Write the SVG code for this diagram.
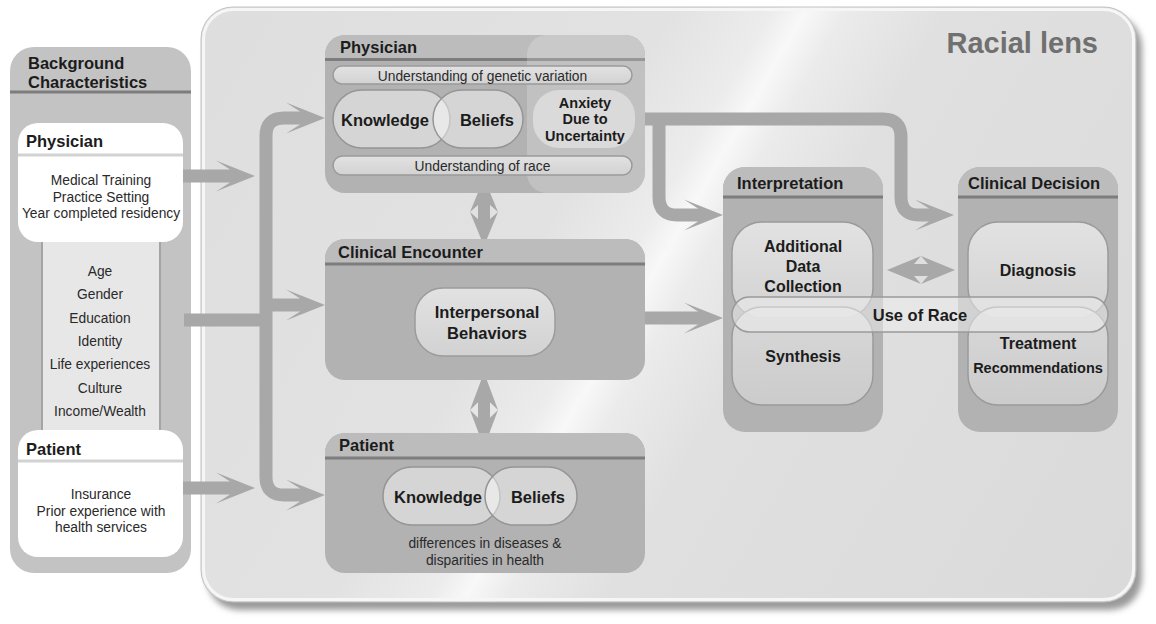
<svg xmlns="http://www.w3.org/2000/svg" width="1156" height="624" viewBox="0 0 1156 624">
  <defs>
    <linearGradient id="lensFill" gradientUnits="userSpaceOnUse" x1="200" y1="0" x2="1140" y2="545">
      <stop offset="0" stop-color="#dedede"/>
      <stop offset="0.38" stop-color="#e2e2e2"/>
      <stop offset="0.46" stop-color="#ececec"/>
      <stop offset="0.487" stop-color="#f8f8f8"/>
      <stop offset="0.52" stop-color="#ebebeb"/>
      <stop offset="0.6" stop-color="#e0e0e0"/>
      <stop offset="1" stop-color="#dadada"/>
    </linearGradient>
    <linearGradient id="pillFill" x1="0" y1="0" x2="0" y2="1">
      <stop offset="0" stop-color="#e2e2e2"/>
      <stop offset="1" stop-color="#d2d2d2"/>
    </linearGradient>
    <filter id="soft" x="-5%" y="-5%" width="110%" height="115%">
      <feGaussianBlur stdDeviation="3"/>
    </filter>
    <!-- swept arrowhead, tip at the origin, pointing right -->
    <path id="head" d="M -25 -6.5 L -39 -15.5 L 0 0 L -39 15.5 L -25 6.5 Z"/>
    <!-- two-way link, vertical, centred on the origin -->
    <g id="twoway">
      <path d="M 0 -34 L 14 0 L 6 -7 L -6 -7 L -14 0 Z"/>
      <rect x="-6" y="-8" width="12" height="16"/>
      <path d="M 0 34 L -14 0 L -6 7 L 6 7 L 14 0 Z"/>
    </g>
  </defs>
  <style>
    .t { font-family: "Liberation Sans", Arial, Helvetica, sans-serif; fill: #1c1c1c; }
    .b { font-weight: bold; font-size: 16.5px; }
    .r { font-size: 13.8px; fill: #2a2a2a; }
    .c { text-anchor: middle; }
    .box { fill: #b2b2b2; }
    .hdr { fill: #bcbcbc; }
    .sep { stroke: #7d7d7d; stroke-width: 3; }
    .pill { fill: url(#pillFill); stroke: #9a9a9a; stroke-width: 1.5; }
    .lens { fill: #ffffff; fill-opacity: 0.45; stroke: #959595; stroke-width: 1.5; }
    .flow { fill: none; stroke: #a8a8a8; stroke-width: 13; }
    .head { fill: #a8a8a8; }
  </style>

  <rect width="1156" height="624" fill="#ffffff"/>

  <!-- racial lens panel -->
  <g id="racial-lens">
    <rect x="207" y="15" width="935" height="595" rx="32" fill="#9a9a9a" filter="url(#soft)"/>
    <rect x="201" y="7" width="935" height="595" rx="32" fill="url(#lensFill)" stroke="#c2c2c2" stroke-width="1"/>
    <rect x="203.5" y="9.5" width="930" height="590" rx="30" fill="none" stroke="#f6f6f6" stroke-width="3"/>
    <text class="t b" x="1098" y="53" text-anchor="end" style="font-size:29px;fill:#707070">Racial lens</text>
  </g>

  <!-- background characteristics column -->
  <g id="background">
    <rect x="10" y="47" width="181" height="526" rx="24" fill="#c3c3c3"/>
    <line class="sep" x1="10" y1="92" x2="191" y2="92"/>
    <text class="t b" x="28" y="69">Background</text>
    <text class="t b" x="28" y="88">Characteristics</text>
    <rect x="41" y="236" width="120" height="200" fill="#e7e7e7"/>
    <line x1="42" y1="236" x2="42" y2="436" stroke="#a4a4a4" stroke-width="2"/>
    <line x1="160" y1="236" x2="160" y2="436" stroke="#a4a4a4" stroke-width="2"/>
    <g class="t r c">
      <text x="100" y="276">Age</text>
      <text x="100" y="299.3">Gender</text>
      <text x="100" y="322.6">Education</text>
      <text x="100" y="346">Identity</text>
      <text x="100" y="369.3">Life experiences</text>
      <text x="100" y="392.6">Culture</text>
      <text x="100" y="416">Income/Wealth</text>
    </g>
  </g>

  <g id="bg-physician">
    <rect x="18" y="123" width="165" height="119" rx="20" fill="#ffffff"/>
    <line x1="18" y1="155" x2="183" y2="155" stroke="#d2d2d2" stroke-width="3"/>
    <text class="t b" x="26" y="147">Physician</text>
    <g class="t r c">
      <text x="101" y="185">Medical Training</text>
      <text x="101" y="201.5">Practice Setting</text>
      <text x="101" y="218">Year completed residency</text>
    </g>
  </g>

  <g id="bg-patient">
    <rect x="18" y="430" width="165" height="127" rx="20" fill="#ffffff"/>
    <line x1="18" y1="461" x2="183" y2="461" stroke="#d2d2d2" stroke-width="3"/>
    <text class="t b" x="26" y="455">Patient</text>
    <g class="t r c">
      <text x="101" y="499">Insurance</text>
      <text x="101" y="515.5">Prior experience with</text>
      <text x="101" y="532">health services</text>
    </g>
  </g>

  <!-- connectors -->
  <g id="connectors">
    <path class="flow" d="M 183 176 H 232"/>
    <use href="#head" class="head" x="255" y="176"/>
    <path class="flow" d="M 183 488 H 232"/>
    <use href="#head" class="head" x="255" y="488"/>
    <path class="flow" d="M 184 320 H 266"/>
    <path class="flow" d="M 302 118 H 284 Q 266 118 266 136 V 477 Q 266 495 284 495 H 302"/>
    <use href="#head" class="head" x="325" y="118"/>
    <use href="#head" class="head" x="325" y="495"/>
    <path class="flow" d="M 266 305 H 302"/>
    <use href="#head" class="head" x="325" y="305"/>
    <path class="flow" d="M 645 318 H 700"/>
    <use href="#head" class="head" x="723" y="318"/>
    <path class="flow" d="M 640 119 H 883 Q 901 119 901 137 V 197 Q 901 215 919 215 H 931"/>
    <use href="#head" class="head" x="954" y="215"/>
    <path class="flow" d="M 659 119 V 197 Q 659 215 677 215 H 700"/>
    <use href="#head" class="head" x="723" y="215"/>
    <!-- two-way links -->
    <use href="#twoway" class="head" transform="translate(484 212)"/>
    <use href="#twoway" class="head" transform="translate(484 410) scale(1 1.1)"/>
    <use href="#twoway" class="head" transform="translate(921 270) rotate(90)"/>
  </g>

  <!-- physician -->
  <g id="physician">
    <rect class="box" x="325" y="35" width="320" height="158" rx="20"/>
    <path class="hdr" d="M 325 59 V 55 A 20 20 0 0 1 345 35 H 625 A 20 20 0 0 1 645 55 V 59 Z"/>
    <line class="sep" x1="325" y1="59.5" x2="645" y2="59.5"/>
    <rect x="527" y="35" width="118" height="158" rx="20" fill="#ffffff" fill-opacity="0.2"/>
    <text class="t b" x="340" y="53">Physician</text>
    <rect class="pill" x="333" y="66" width="299" height="18" rx="9"/>
    <text class="t r c" x="482.5" y="80.5">Understanding of genetic variation</text>
    <rect class="lens" x="333" y="90" width="117" height="58" rx="29"/>
    <rect class="lens" x="433" y="90" width="90" height="58" rx="29"/>
    <text class="t b" x="341" y="126">Knowledge</text>
    <text class="t b c" x="487" y="126">Beliefs</text>
    <rect x="533" y="90" width="102" height="58" rx="26" fill="#dadada"/>
    <text class="t b c" x="585" y="107.5" style="font-size:14.5px">Anxiety</text>
    <text class="t b c" x="585" y="124" style="font-size:14.5px">Due to</text>
    <text class="t b c" x="585" y="140.5" style="font-size:14.5px">Uncertainty</text>
    <rect class="pill" x="333" y="156" width="299" height="19" rx="9.5"/>
    <text class="t r c" x="482.5" y="170.5">Understanding of race</text>
  </g>

  <!-- clinical encounter -->
  <g id="clinical-encounter">
    <rect class="box" x="325" y="239" width="320" height="141" rx="20"/>
    <path class="hdr" d="M 325 264 V 259 A 20 20 0 0 1 345 239 H 625 A 20 20 0 0 1 645 259 V 264 Z"/>
    <line class="sep" x1="325" y1="264" x2="645" y2="264"/>
    <text class="t b" x="338" y="258">Clinical Encounter</text>
    <rect x="415" y="288" width="140" height="68" rx="28" fill="url(#pillFill)" stroke="#9c9c9c" stroke-width="1.5"/>
    <text class="t b c" x="487" y="318">Interpersonal</text>
    <text class="t b c" x="487" y="339">Behaviors</text>
  </g>

  <!-- patient -->
  <g id="patient">
    <rect class="box" x="325" y="433" width="320" height="140" rx="20"/>
    <path class="hdr" d="M 325 458 V 453 A 20 20 0 0 1 345 433 H 625 A 20 20 0 0 1 645 453 V 458 Z"/>
    <line class="sep" x1="325" y1="458" x2="645" y2="458"/>
    <text class="t b" x="339" y="451">Patient</text>
    <rect class="lens" x="383" y="467" width="117" height="58" rx="29"/>
    <rect class="lens" x="485" y="467" width="92" height="58" rx="29"/>
    <text class="t b c" x="438" y="502.5">Knowledge</text>
    <text class="t b c" x="538" y="502.5">Beliefs</text>
    <text class="t r c" x="485" y="548">differences in diseases &amp;</text>
    <text class="t r c" x="485" y="565">disparities in health</text>
  </g>

  <!-- interpretation -->
  <g id="interpretation">
    <rect class="box" x="723" y="167" width="160" height="265" rx="22"/>
    <path class="hdr" d="M 723 197 V 189 A 22 22 0 0 1 745 167 H 861 A 22 22 0 0 1 883 189 V 197 Z"/>
    <line class="sep" x1="723" y1="197" x2="883" y2="197"/>
    <text class="t b" x="737" y="189">Interpretation</text>
    <rect class="pill" x="732" y="222" width="141" height="96" rx="30"/>
    <text class="t b c" x="803" y="251.5" style="font-size:16px">Additional</text>
    <text class="t b c" x="803" y="271.5" style="font-size:16px">Data</text>
    <text class="t b c" x="803" y="291.5" style="font-size:16px">Collection</text>
    <rect class="pill" x="732" y="307" width="141" height="98" rx="30" fill-opacity="0.8"/>
    <text class="t b c" x="803" y="362" style="font-size:16px">Synthesis</text>
  </g>

  <!-- clinical decision -->
  <g id="clinical-decision">
    <rect class="box" x="958" y="167" width="160" height="265" rx="22"/>
    <path class="hdr" d="M 958 197 V 189 A 22 22 0 0 1 980 167 H 1096 A 22 22 0 0 1 1118 189 V 197 Z"/>
    <line class="sep" x1="958" y1="197" x2="1118" y2="197"/>
    <text class="t b" x="968" y="189">Clinical Decision</text>
    <rect class="pill" x="968" y="222" width="140" height="96" rx="30"/>
    <text class="t b c" x="1038" y="276" style="font-size:16px">Diagnosis</text>
    <rect class="pill" x="968" y="307" width="140" height="98" rx="30" fill-opacity="0.8"/>
    <text class="t b c" x="1038" y="349" style="font-size:16px">Treatment</text>
    <text class="t b c" x="1038" y="373" style="font-size:14.5px">Recommendations</text>
  </g>

  <!-- use of race band across both stages -->
  <g id="use-of-race">
    <rect x="732" y="297" width="376" height="35" rx="17.5" fill="#ececec" fill-opacity="0.55" stroke="#9a9a9a" stroke-width="1.5"/>
    <text class="t b c" x="920" y="320.5" style="font-size:16.5px">Use of Race</text>
  </g>
</svg>
